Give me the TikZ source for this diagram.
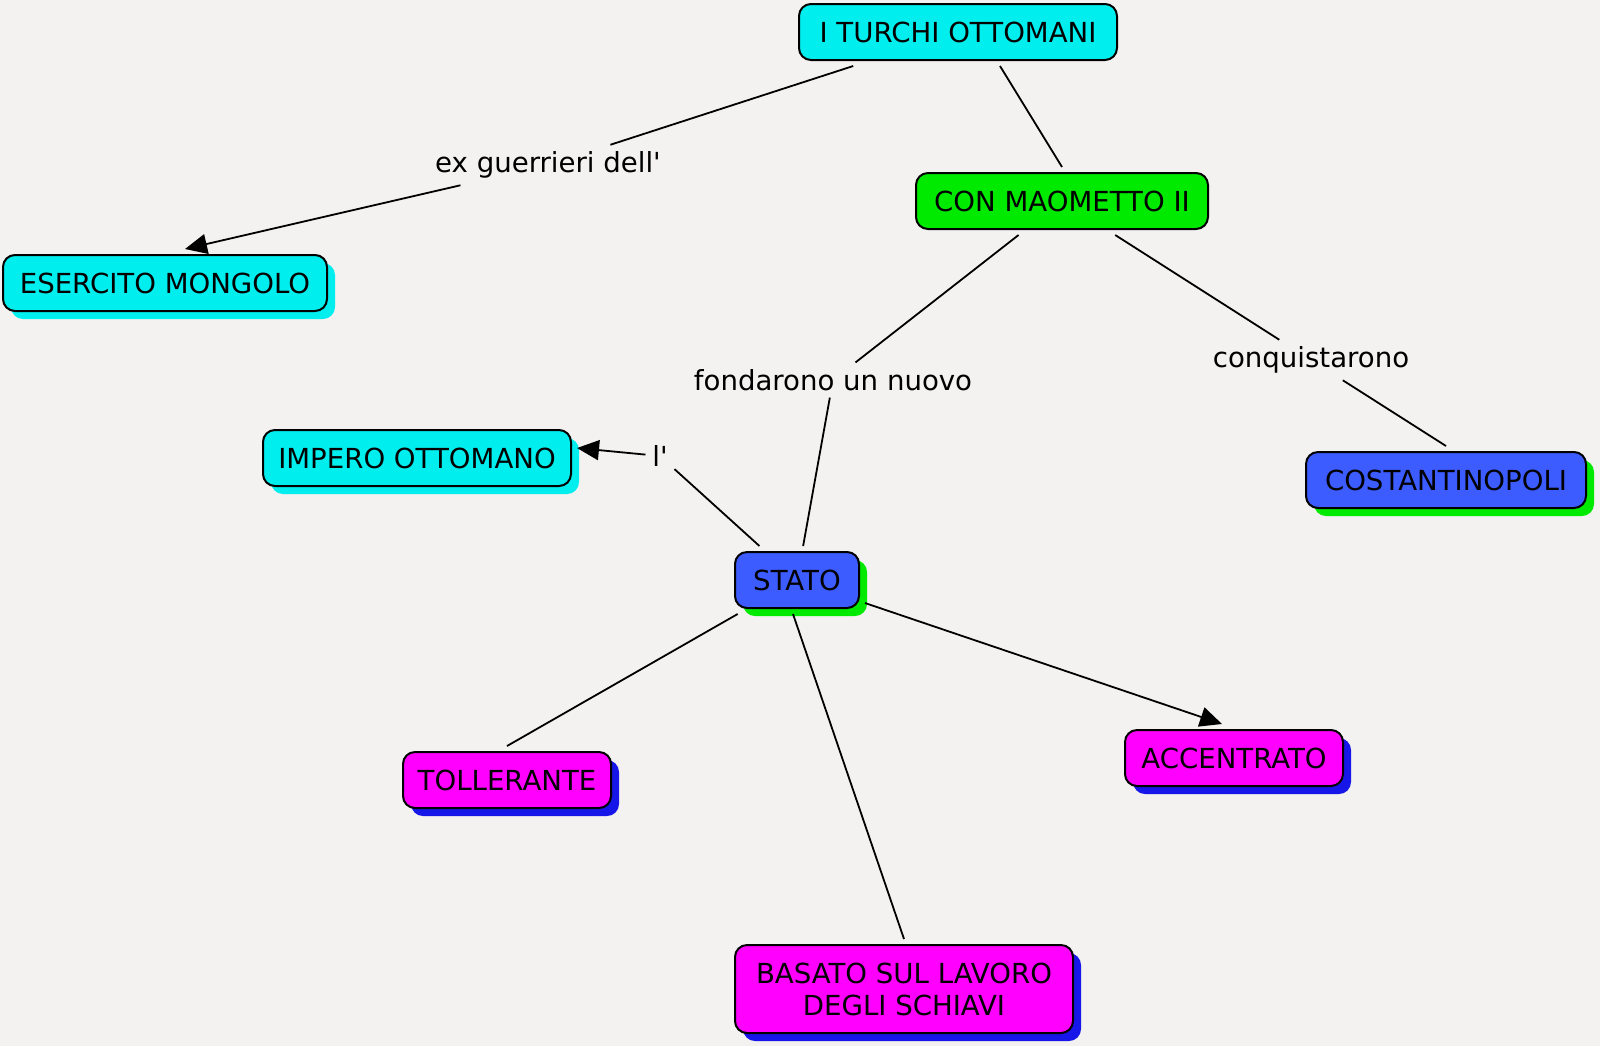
\documentclass[tikz,border=0pt]{standalone}
\usepackage{fontspec}
\setmainfont{DejaVu Sans}
\usetikzlibrary{arrows.meta}
\usetikzlibrary{shadows}
\definecolor{fondo}{RGB}{243,242,240}
\definecolor{ciano}{RGB}{0,238,238}
\definecolor{verde}{RGB}{0,234,0}
\definecolor{blu}{RGB}{60,92,255}
\definecolor{magenta}{RGB}{255,0,255}
\definecolor{bluscuro}{RGB}{22,22,232}

\begin{document}
\begin{tikzpicture}[
		x=0.5pt, y=-0.5pt,
		box/.style={rectangle,rounded corners=6pt,draw=black,line width=1pt,
			inner xsep=4pt,minimum height=28pt,outer sep=3pt,
			font=\fontsize{13.8}{16}\selectfont},
		ombra/.style={general shadow={shadow xshift=4pt,shadow yshift=-4pt,fill=#1}},
		link/.style={inner sep=3pt,font=\fontsize{13.8}{16}\selectfont},
		>={Triangle[length=11pt,width=10pt]},
		line width=0.9pt]
	%% background
	\fill[fondo] (0,0) rectangle (1600,1046);
	\useasboundingbox (0,0) rectangle (1600,1046);
	%% define concepts
	\node (turchi) at (958,32) [box,fill=ciano,minimum width=159pt] {I TURCHI OTTOMANI};
	\node (maometto) at (1062,201) [box,fill=verde,minimum width=146pt] {CON MAOMETTO II};
	\node (mongolo) at (165,283) [box,fill=ciano,ombra=ciano,minimum width=162pt] {ESERCITO MONGOLO};
	\node (impero) at (417,458) [box,fill=ciano,ombra=ciano,minimum width=154pt] {IMPERO OTTOMANO};
	\node (costantinopoli) at (1446,480) [box,fill=blu,ombra=verde,minimum width=140pt] {COSTANTINOPOLI};
	\node (stato) at (797,580) [box,fill=blu,ombra=verde,minimum width=62pt] {STATO};
	\node (tollerante) at (507,780) [box,fill=magenta,ombra=bluscuro,minimum width=104pt] {TOLLERANTE};
	\node (accentrato) at (1234,758) [box,fill=magenta,ombra=bluscuro,minimum width=109pt] {ACCENTRATO};
	\node (schiavi) at (904,989) [box,fill=magenta,ombra=bluscuro,minimum width=169pt,minimum height=44pt,align=center] {BASATO SUL LAVORO\\DEGLI SCHIAVI};
	%% define link labels
	\node (lguerrieri) at (548,165) [link] {ex guerrieri dell\textquotesingle};
	\node (lfondarono) at (833,380) [link] {fondarono un nuovo};
	\node (lconquista) at (1311,360) [link] {conquistarono};
	\node (limpero) at (660,456) [link] {l\textquotesingle};
	%% define links
	\draw (turchi) -- (lguerrieri);
	\draw[->] (lguerrieri) -- ([xshift=10pt]mongolo.north);
	\draw ([xshift=21pt]turchi.south) -- (maometto.north);
	\draw (maometto) -- (lfondarono);
	\draw (lfondarono) -- (stato);
	\draw (maometto) -- (lconquista);
	\draw (lconquista) -- (costantinopoli.north);
	\draw (stato) -- (limpero);
	\draw[->] (limpero) -- ([yshift=5pt]impero.east);
	\draw (stato) -- (tollerante.north);
	\draw ([xshift=-2pt]stato.south) -- (schiavi.north);
	\draw[->] (stato) -- ([xshift=-6pt]accentrato.north);
\end{tikzpicture}
\end{document}
